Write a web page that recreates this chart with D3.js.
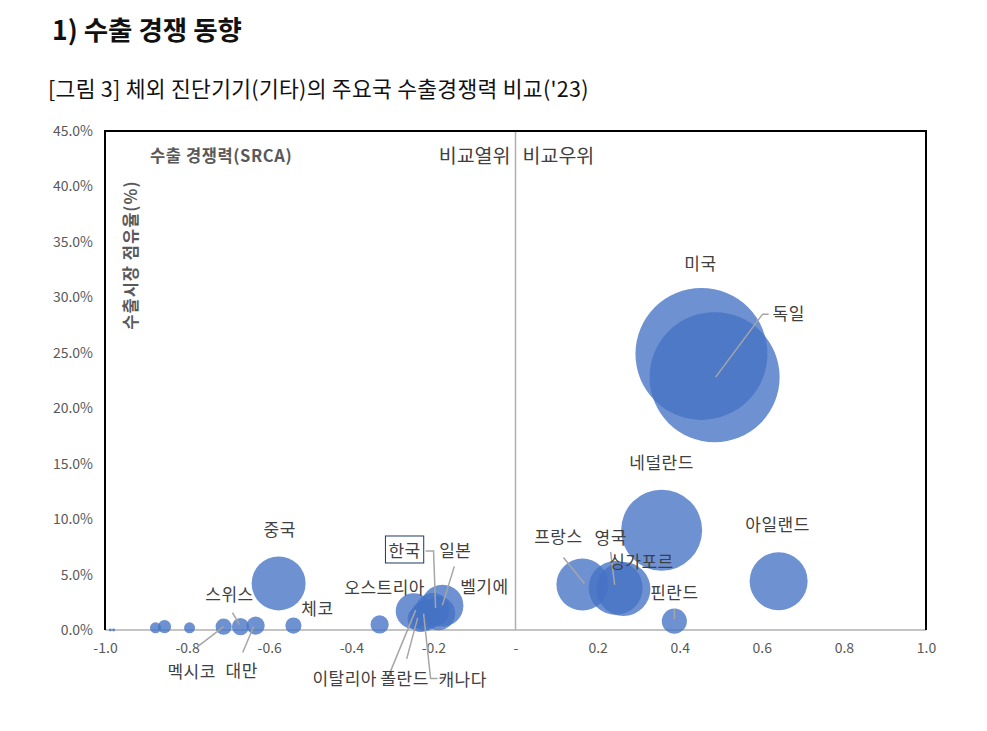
<!DOCTYPE html>
<html>
<head>
<meta charset="utf-8">
<script src="https://cdn.jsdelivr.net/npm/d3@7"></script>
<style>
  body { margin: 0; background: #fff; }
  text { font-family: "Noto Sans CJK KR", "Noto Sans", sans-serif; }
</style>
</head>
<body>
<div class="chart"></div>
<script>
// data
var countries  = ["미국", "독일", "네덜란드", "아일랜드", "프랑스", "영국", "싱가포르", "핀란드",
                  "중국", "체코", "대만", "스위스", "멕시코", "오스트리아",
                  "이탈리아", "폴란드", "캐나다", "한국", "일본", "벨기에",
                  "기타1", "기타2", "기타3", "기타4", "기타5"];
var srca       = [0.453, 0.485, 0.356, 0.641, 0.163, 0.244, 0.263, 0.387,
                  -0.577, -0.541, -0.633, -0.670, -0.711, -0.331,
                  -0.248, -0.231, -0.219, -0.202, -0.188, -0.178,
                  -0.794, -0.855, -0.877, -0.987, -0.979];
var share      = [0.249, 0.228, 0.090, 0.044, 0.041, 0.038, 0.037, 0.008,
                  0.042, 0.004, 0.004, 0.003, 0.003, 0.005,
                  0.017, 0.010, 0.013, 0.018, 0.015, 0.022,
                  0.002, 0.003, 0.002, 0.000, 0.000];
var exportSize = [100, 97, 37.7, 19.3, 15.5, 16.7, 16.7, 3.6,
                  16.7, 1.5, 1.9, 1.7, 1.5, 1.9,
                  7.4, 3.9, 5.2, 6.6, 6.6, 10.1,
                  0.7, 1.0, 0.7, 0.05, 0.05];
var xTicks = [-1.0, -0.8, -0.6, -0.4, -0.2, 0, 0.2, 0.4, 0.6, 0.8, 1.0];
var yTicks = [0, 0.05, 0.10, 0.15, 0.20, 0.25, 0.30, 0.35, 0.40, 0.45];

// label placement (pixel offsets from the bubble centre)
var labelLayout = {
  "미국":     { dx: -1,  dy: -90 },
  "독일":     { dx: 58,  dy: -63, anchor: "start", leader: [[1, 0], [48, -63], [54, -63]] },
  "네덜란드": { dx: 0,   dy: -67 },
  "아일랜드": { dx: -1,  dy: -56 },
  "프랑스":   { dx: -24, dy: -47, leader: [[-19, -27], [2, -1]] },
  "영국":     { dx: -5,  dy: -50, leader: [[-5, -36], [-1, -3]] },
  "싱가포르": { dx: 18,  dy: -27 },
  "핀란드":   { dx: 0,   dy: -28, leader: [[0, -12], [0, -2]] },
  "중국":     { dx: 1,   dy: -53 },
  "체코":     { dx: 24,  dy: -17 },
  "스위스":   { dx: -11, dy: -32, leader: [[-8, -14], [-1, -2]] },
  "멕시코":   { dx: -32, dy: 45, leader: [[-26, 20], [0, 0]] },
  "대만":     { dx: -14, dy: 45, leader: [[-13, 27], [-2, 1]] },
  "오스트리아": { dx: 5, dy: -36 },
  "한국":     { dx: -28, dy: -59, box: true, leader: [[-7, -59], [1, -59], [3, -2]] },
  "일본":     { dx: 17,  dy: -62, leader: [[16, -47], [4, -8]] },
  "벨기에":   { dx: 42,  dy: -19 },
  "이탈리아": { dx: -69, dy: 68, leader: [[-33, 67], [-26, 67], [2, -1]] },
  "폴란드":   { dx: -16, dy: 60, leader: [[-14, 40], [-3, -1]] },
  "캐나다":   { dx: 37,  dy: 64, leader: [[-2, -2], [5, 63], [12, 63]] }
};

var width = 987, height = 731;
var plotLeft = 105, plotRight = 926, plotTop = 131, plotBottom = 630;

var svg = d3.select(".chart").append("svg")
    .attr("width", width)
    .attr("height", height);

// titles
svg.append("text")
    .attr("x", 52).attr("y", 40)
    .attr("font-size", "26.5px")
    .attr("font-weight", "bold")
    .attr("fill", "#111")
    .text("1) 수출 경쟁 동향");

svg.append("text")
    .attr("x", 48).attr("y", 97)
    .attr("font-size", "21.5px")
    .attr("letter-spacing", "0.3px")
    .attr("fill", "#111")
    .text("[그림 3] 체외 진단기기(기타)의 주요국 수출경쟁력 비교('23)");

var x = d3.scaleLinear().domain([-1, 1]).range([plotLeft, plotRight]);
var y = d3.scaleLinear().domain([0, 0.45]).range([plotBottom, plotTop]);
var r = d3.scaleSqrt().domain([0, 100]).range([0, 66]);

// axes
var xAxis = d3.axisBottom(x).tickValues(xTicks).tickSize(0).tickPadding(13)
    .tickFormat(function(d){ return d === 0 ? "-" : d3.format(".1f")(d).replace("−", "-"); });
var yAxis = d3.axisLeft(y).tickValues(yTicks).tickSize(0).tickPadding(12)
    .tickFormat(d3.format(".1%"));

var gx = svg.append("g").attr("transform", "translate(0," + plotBottom + ")").call(xAxis);
var gy = svg.append("g").attr("transform", "translate(" + plotLeft + ",0)").call(yAxis);
gx.select(".domain").remove();
gy.select(".domain").remove();
svg.selectAll(".tick text")
    .attr("font-size", "14px")
    .attr("fill", "#595959")
    .style("font-family", "\"Noto Sans CJK KR\", sans-serif");

// frame
svg.append("line")
    .attr("x1", x(0)).attr("x2", x(0)).attr("y1", plotTop).attr("y2", plotBottom)
    .attr("stroke", "#b0b0b0").attr("stroke-width", 1.5);
svg.append("line")
    .attr("x1", plotLeft).attr("x2", plotRight).attr("y1", plotBottom).attr("y2", plotBottom)
    .attr("stroke", "#b0b0b0").attr("stroke-width", 1.5);
svg.append("path")
    .attr("d", "M" + plotLeft + "," + plotBottom + "V" + plotTop + "H" + plotRight + "V" + plotBottom)
    .attr("fill", "none").attr("stroke", "#000").attr("stroke-width", 2);

// quadrant captions
svg.append("text")
    .attr("x", 150).attr("y", 162)
    .attr("font-size", "16.5px").attr("letter-spacing", "0.6px")
    .attr("font-weight", "bold").attr("fill", "#595959")
    .text("수출 경쟁력(SRCA)");

svg.append("text")
    .attr("x", x(0) - 5).attr("y", 163)
    .attr("text-anchor", "end")
    .attr("font-size", "19.5px").attr("fill", "#404040")
    .text("비교열위");

svg.append("text")
    .attr("x", x(0) + 7).attr("y", 163)
    .attr("font-size", "19.5px").attr("fill", "#404040")
    .text("비교우위");

svg.append("text")
    .attr("transform", "translate(137,255) rotate(-90)")
    .attr("text-anchor", "middle")
    .attr("font-size", "16.5px").attr("letter-spacing", "1px")
    .attr("font-weight", "bold").attr("fill", "#595959")
    .text("수출시장 점유율(%)");

// bubbles
var idx = d3.range(countries.length);

svg.append("g").selectAll("circle")
    .data(idx)
    .join("circle")
    .attr("cx", function(i){ return x(srca[i]); })
    .attr("cy", function(i){ return y(share[i]); })
    .attr("r", function(i){ return r(exportSize[i]); })
    .attr("fill", "#4472C4")
    .attr("fill-opacity", 0.78);

// leaders and labels
var labelled = idx.filter(function(i){ return labelLayout[countries[i]]; });
var gl = svg.append("g");

labelled.forEach(function(i){
    var L = labelLayout[countries[i]];
    var cx = x(srca[i]), cy = y(share[i]);
    if (L.leader) {
        gl.append("path")
            .attr("d", d3.line()(L.leader.map(function(p){ return [cx + p[0], cy + p[1]]; })))
            .attr("fill", "none")
            .attr("stroke", "#a6a6a6")
            .attr("stroke-width", 1.5);
    }
    var t = gl.append("text")
        .attr("x", cx + L.dx)
        .attr("y", cy + L.dy)
        .attr("dy", "0.35em")
        .attr("text-anchor", L.anchor || "middle")
        .attr("font-size", "17px")
        .attr("letter-spacing", "0.5px")
        .attr("fill", "#404040")
        .text(countries[i]);
    if (L.box) {
        var bb = t.node().getBBox();
        gl.insert("rect", "text")
            .attr("x", bb.x - 3).attr("y", bb.y - 1)
            .attr("width", bb.width + 6).attr("height", bb.height + 2)
            .attr("fill", "#fff")
            .attr("stroke", "#1f3864")
            .attr("stroke-width", 1);
    }
});
</script>
</body>
</html>
